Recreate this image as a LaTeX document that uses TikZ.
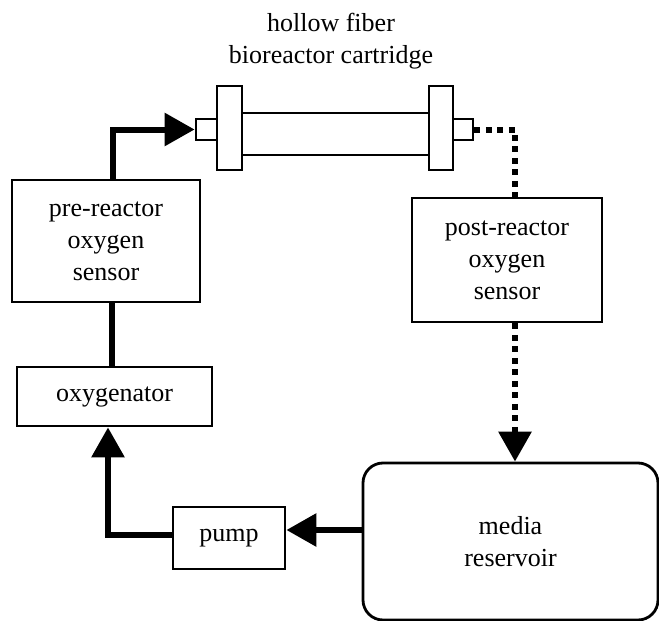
\documentclass[tikz,border=0pt]{standalone}
\usepackage{fontspec}
\setmainfont{Liberation Serif}
\usetikzlibrary{arrows.meta,calc}
\begin{document}
\begin{tikzpicture}[x=1pt,y=-1pt,
  box/.style={draw,line width=2.8pt,align=center,font=\fontsize{26}{32}\selectfont,inner sep=0pt},
  part/.style={draw,line width=2.8pt,inner sep=0pt},
  flow/.style={line width=6pt},
  tip/.style={-{Triangle[length=30pt,width=32pt]}},
  dots/.style={line width=6pt,dash pattern=on 6pt off 5.5pt}]
\useasboundingbox (0,0) rectangle (659,621);
\node[box,minimum width=188pt,minimum height=122pt] (pre) at (106,241) {pre-reactor\\oxygen\\sensor};
\node[box,minimum width=195pt,minimum height=59pt] (oxy) at (114.5,396.5) {oxygenator};
\node[box,minimum width=112pt,minimum height=62pt] (pump) at (229,538) {pump};
\node[box,rounded corners=20pt,minimum width=295pt,minimum height=157pt] (res) at (510.5,541.5) {media\\reservoir};
\node[box,minimum width=190pt,minimum height=124pt] (post) at (507,260) {post-reactor\\oxygen\\sensor};
\node[part,minimum width=187pt,minimum height=42pt] (tube) at (335.5,134) {};
\node[part,minimum width=21pt,minimum height=21pt] (lport) at (206.5,129.5) {};
\node[part,minimum width=25pt,minimum height=84pt] (lfl) at (229.5,128) {};
\node[part,minimum width=24pt,minimum height=84pt] (rfl) at (441,128) {};
\node[part,minimum width=20pt,minimum height=21pt] (rport) at (463,129.5) {};
\node[font=\fontsize{26}{32}\selectfont,align=center,inner sep=0pt] (title) at (331,41) {hollow fiber\\bioreactor cartridge};
\draw[flow,tip] ([xshift=7pt]pre.north) |- (lport.west);
\draw[flow] ([xshift=6pt]pre.south) -- ([xshift=6pt]pre.south |- oxy.north);
\draw[flow,tip] ([yshift=3pt]pump.west) -| ([xshift=-6.5pt]oxy.south);
\draw[flow,tip] ([yshift=11.5pt]res.west) -- ([yshift=11.5pt]res.west -| pump.east);
\draw[dots] (rport.east) -| ([xshift=8pt]post.north);
\draw[dots,tip] ([xshift=8pt]post.south) -- ([xshift=8pt]post.south |- res.north);
\end{tikzpicture}
\end{document}
